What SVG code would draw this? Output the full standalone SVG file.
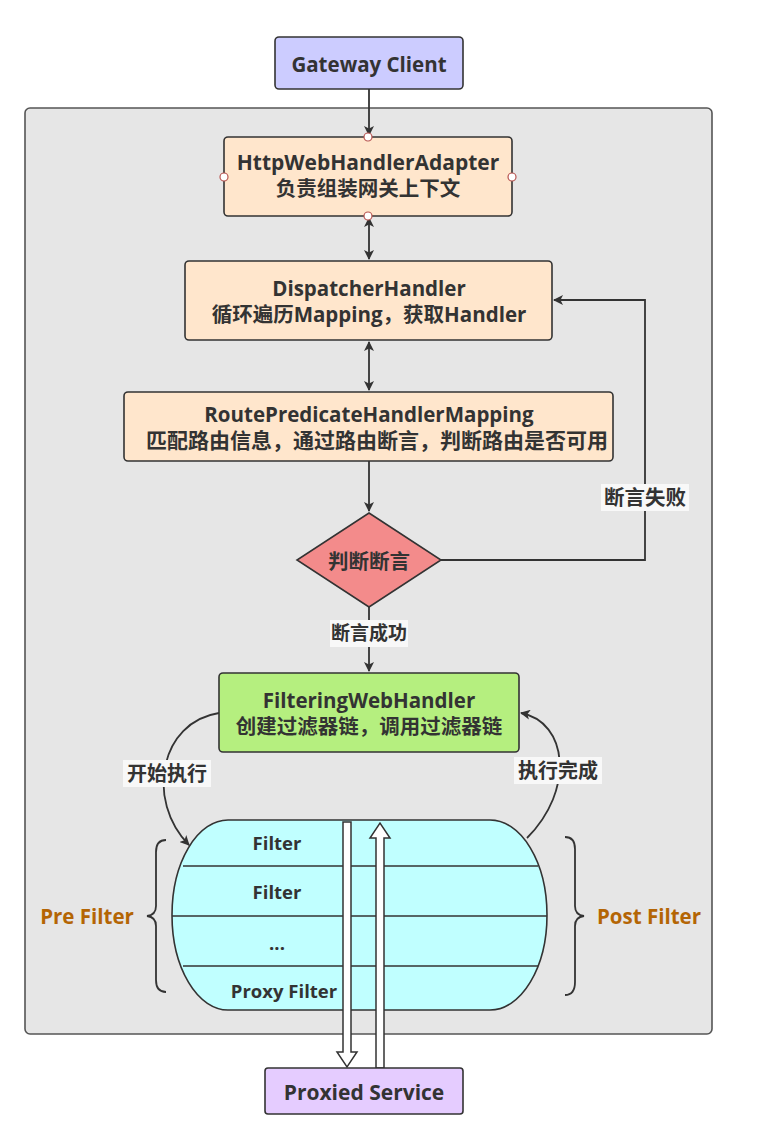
<svg xmlns="http://www.w3.org/2000/svg" width="780" height="1129" viewBox="0 0 780 1129">
<style>
.t{font-family:"Open Sans","Noto Sans CJK SC",sans-serif;font-weight:bold;fill:#333;text-anchor:middle;dominant-baseline:central}
.box{stroke:#333;stroke-width:1.6}
.ln{fill:none;stroke:#333;stroke-width:1.8}
.lbl{fill:#f8f8f8}
.or{fill:#b46504}
</style>
<defs>
<marker id="ah" viewBox="0 0 10 10" refX="9" refY="5" markerWidth="10" markerHeight="10" markerUnits="userSpaceOnUse" orient="auto-start-reverse">
<path d="M0,0 L10,5 L0,10 L2.5,5 Z" fill="#333"/>
</marker>
</defs>
<rect x="0" y="0" width="780" height="1129" fill="#ffffff"/>
<rect id="container" x="25" y="108" width="687" height="926" rx="5" fill="#e6e6e6" stroke="#555" stroke-width="1.6"/>

<g id="connectors">
<path class="ln" d="M369,89 V135" marker-end="url(#ah)"/>
<path class="ln" d="M369,218 V259" marker-start="url(#ah)" marker-end="url(#ah)"/>
<path class="ln" d="M369,342 V390" marker-start="url(#ah)" marker-end="url(#ah)"/>
<path class="ln" d="M369,461 V511" marker-end="url(#ah)"/>
<path class="ln" d="M369,607 V671" marker-end="url(#ah)"/>
<path class="ln" d="M441,560 H645 V300 H554" marker-end="url(#ah)"/>
<path class="ln" d="M219,713 C160,722 145,800 189,845" marker-end="url(#ah)"/>
<path class="ln" d="M527,838 C575,790 568,722 521,713" marker-end="url(#ah)"/>
<rect class="lbl" x="601" y="484" width="88" height="27"/>
<text class="t" x="645" y="497" font-size="20.5">断言失败</text>
<rect class="lbl" x="330" y="620" width="78" height="27"/>
<text class="t" x="369" y="633" font-size="19">断言成功</text>
<rect class="lbl" x="123" y="760" width="88" height="27"/>
<text class="t" x="167" y="773" font-size="20">开始执行</text>
<rect class="lbl" x="514" y="757" width="88" height="27"/>
<text class="t" x="558" y="770" font-size="20">执行完成</text>
</g>

<g id="gateway-client">
<rect class="box" x="275" y="37" width="188" height="52" rx="4" fill="#ccccff"/>
<text class="t" x="369" y="64" font-size="20.5">Gateway Client</text>
</g>

<g id="http-web-handler-adapter">
<rect class="box" x="224" y="137" width="288" height="79" rx="4" fill="#ffe6cc"/>
<text class="t" x="368" y="162" font-size="21">HttpWebHandlerAdapter</text>
<text class="t" x="368" y="188" font-size="20.5">负责组装网关上下文</text>
<g fill="#fff" stroke="#b85450" stroke-width="1.2">
<circle cx="368" cy="137" r="4"/><circle cx="368" cy="216" r="4"/><circle cx="224" cy="177" r="4"/><circle cx="512" cy="177" r="4"/>
</g>
</g>

<g id="dispatcher-handler">
<rect class="box" x="185" y="261" width="367" height="79" rx="4" fill="#ffe6cc"/>
<text class="t" x="369" y="288" font-size="20.5">DispatcherHandler</text>
<text class="t" x="369" y="314" font-size="20.5">循环遍历Mapping，获取Handler</text>
</g>

<g id="route-predicate-handler-mapping">
<rect class="box" x="124" y="392" width="489" height="69" rx="4" fill="#ffe6cc"/>
<text class="t" x="369" y="414" font-size="20.5">RoutePredicateHandlerMapping</text>
<text class="t" x="377" y="440" font-size="21">匹配路由信息，通过路由断言，判断路由是否可用</text>
</g>

<g id="decision">
<path class="box" d="M369,513 L441,560 L369,607 L297,560 Z" fill="#f38b8b"/>
<text class="t" x="369" y="561" font-size="20.5">判断断言</text>
</g>

<g id="filtering-web-handler">
<rect class="box" x="219" y="673" width="300" height="79" rx="4" fill="#b5ef7f"/>
<text class="t" x="369" y="700" font-size="20.5">FilteringWebHandler</text>
<text class="t" x="369" y="726" font-size="20.5">创建过滤器链，调用过滤器链</text>
</g>

<g id="filter-chain">
<path class="box" d="M228,820 H490 A57,95 0 0 1 490,1010 H228 A56,95 0 0 1 228,820 Z" fill="#c0ffff"/>
<g stroke="#333" stroke-width="1.6">
<line x1="183" y1="866" x2="538" y2="866"/>
<line x1="172" y1="916" x2="547" y2="916"/>
<line x1="183" y1="966" x2="538" y2="966"/>
</g>
<text class="t" x="277" y="842" font-size="18.5">Filter</text>
<text class="t" x="277" y="891" font-size="18.5">Filter</text>
<text class="t" x="277" y="942" font-size="18.5">...</text>
<text class="t" x="284" y="990" font-size="18.5">Proxy Filter</text>
</g>

<g id="flow-arrows" fill="#fff" stroke="#333" stroke-width="1.5">
<path d="M343,822 V1052 H337 L347,1067 L357,1052 H351 V822 Z"/>
<path d="M376,1068 V838 H370 L380,823 L390,838 H384 V1068 Z"/>
</g>

<g id="pre-filter">
<path class="ln" stroke-width="1.5" d="M166,840 Q156,840 156,852 V906 Q156,915 147,916 Q156,917 156,926 V980 Q156,992 166,992"/>
<text class="t or" x="87" y="916" font-size="20.5">Pre Filter</text>
</g>

<g id="post-filter">
<path class="ln" stroke-width="1.5" d="M565,837 Q575,837 575,849 V906 Q575,915 584,916 Q575,917 575,926 V982 Q575,995 565,995"/>
<text class="t or" x="649" y="916" font-size="20.5">Post Filter</text>
</g>

<g id="proxied-service">
<rect class="box" x="265" y="1068" width="198" height="46" rx="3" fill="#e5ccff"/>
<text class="t" x="364" y="1092" font-size="21">Proxied Service</text>
</g>
</svg>
